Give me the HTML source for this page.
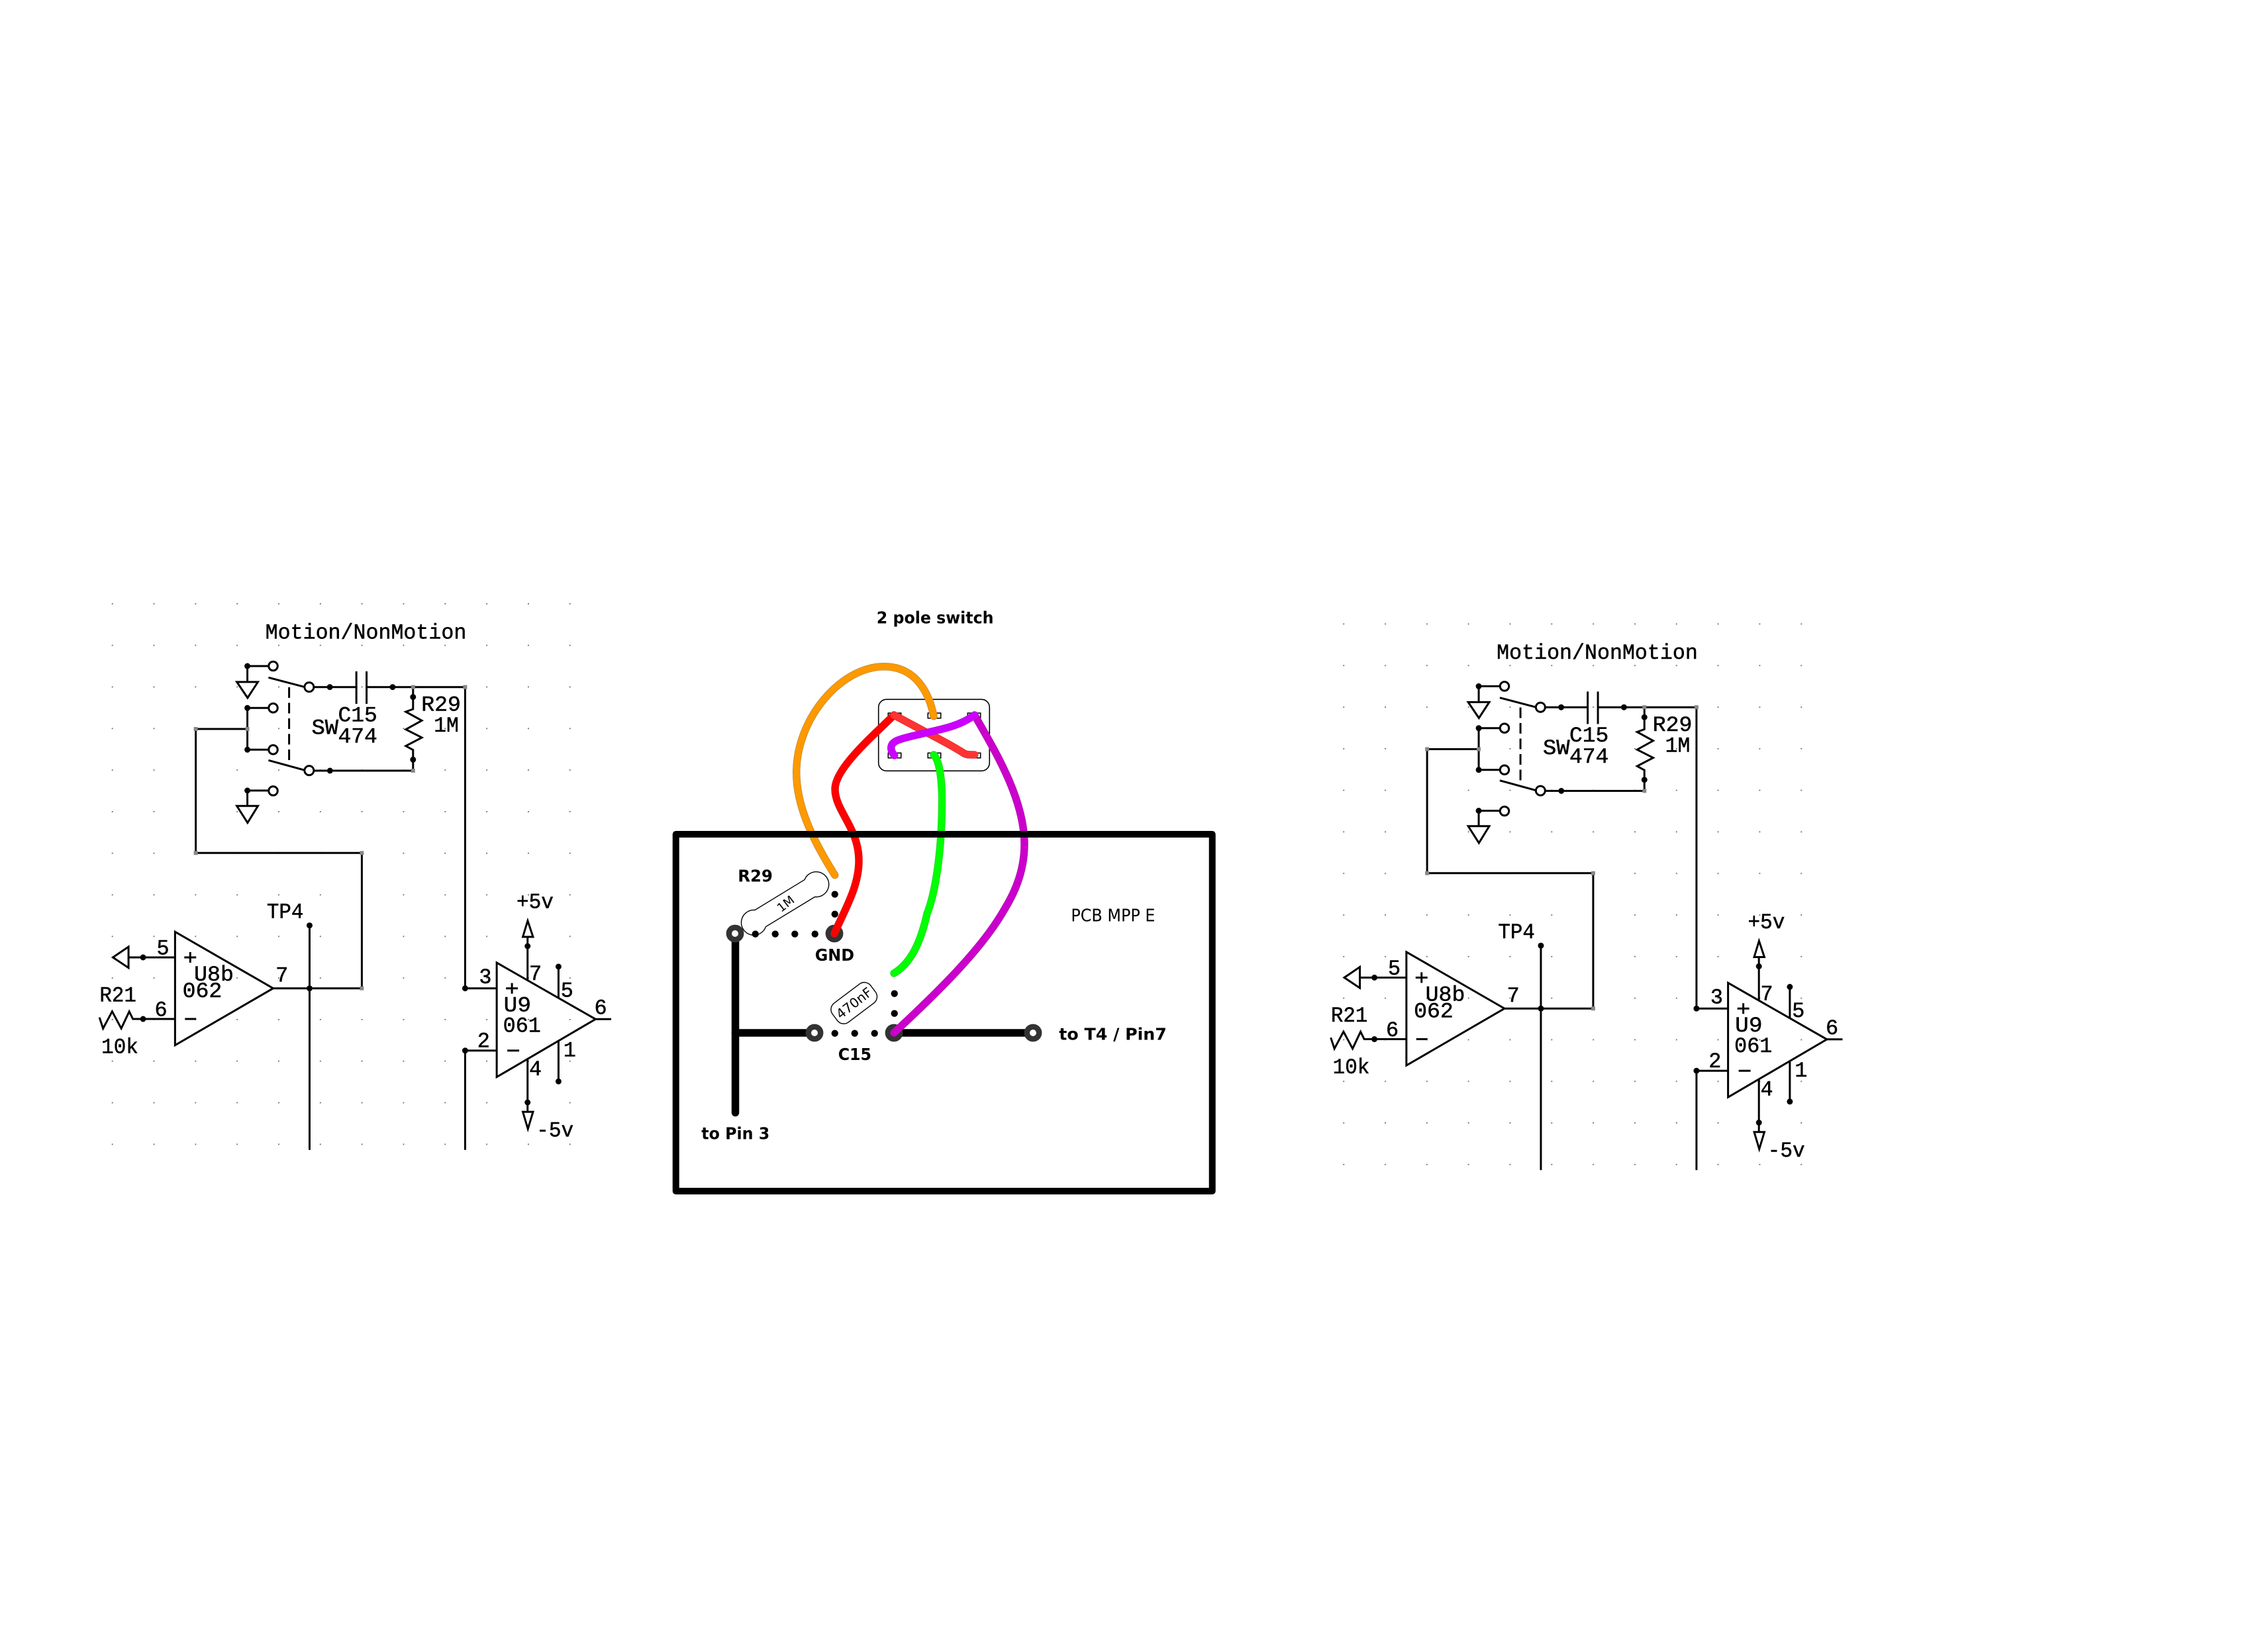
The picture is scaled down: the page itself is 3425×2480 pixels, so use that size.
<!DOCTYPE html>
<html><head><meta charset="utf-8">
<style>
html,body{margin:0;padding:0;background:#fff;width:3425px;height:2480px;overflow:hidden}
svg{display:block}
.s line,.s path,.s polyline,.s polygon{fill:none;stroke:#000;stroke-width:3}
.s circle.c{fill:#fff;stroke:#000;stroke-width:3}
.s circle.d{fill:#000;stroke:none}
.s rect.n{fill:#888;stroke:none}
.s text{font-family:"Liberation Mono",monospace;font-size:32px;fill:#000;stroke:#000;stroke-width:.5}
.b{font-family:"DejaVu Sans","Liberation Sans",sans-serif;font-weight:bold;font-size:25px;fill:#000}
.r{font-family:"DejaVu Sans","Liberation Sans",sans-serif;font-size:26px;fill:#000}
.w{fill:none;stroke-width:11.5;stroke-linecap:round}
.i{fill:none;stroke-width:10;stroke-linecap:round}
</style></head><body>
<svg xmlns="http://www.w3.org/2000/svg" width="3425" height="2480" viewBox="0 0 3425 2480">
<defs><pattern id="p" x="169" y="911" width="63.1" height="62.8" patternUnits="userSpaceOnUse"><rect x="0" y="0" width="1.8" height="1.8" fill="#666"/></pattern></defs>
<g class="s" transform="matrix(.9956 0 0 1 .528 0)">
<rect x="168" y="909" width="700" height="824" fill="url(#p)" style="stroke:none"/>
<polyline points="374.7,1006 406.7,1006"/><line x1="374.7" y1="1006" x2="374.7" y2="1030"/>
<polygon points="358.7,1030 390.7,1030 375,1054"/>
<circle class="d" cx="374.7" cy="1006" r="4.5"/><circle class="c" cx="413.8" cy="1006" r="6.8"/>
<line x1="406.7" y1="1023.3" x2="461.8" y2="1037.7"/><line x1="475" y1="1037.7" x2="540" y2="1037.7"/>
<circle class="c" cx="468.4" cy="1037.7" r="7"/><circle class="d" cx="499.8" cy="1037.7" r="4.5"/>
<line x1="540" y1="1014" x2="540" y2="1063"/><line x1="555.5" y1="1014" x2="555.5" y2="1063"/>
<line x1="555.5" y1="1037.7" x2="705" y2="1037.7"/><circle class="d" cx="595" cy="1037.7" r="4.5"/>
<path d="M626 1037.7V1071L615 1075L639.3 1088.3L615 1101.7L639.3 1114L615 1126.7L626 1132.7V1164H475"/>
<circle class="d" cx="626" cy="1052.7" r="4.5"/><circle class="d" cx="626" cy="1147.3" r="4.5"/>
<circle class="d" cx="500" cy="1164" r="4.5"/><circle class="c" cx="468.4" cy="1163.7" r="7"/>
<line x1="406.7" y1="1148.3" x2="461.8" y2="1163.3"/>
<line x1="438" y1="1038" x2="438" y2="1148" style="stroke-dasharray:16 7.5"/>
<path d="M406.7 1069.3H374.7V1132.3H406.7"/><circle class="d" cx="374.7" cy="1069.3" r="4.5"/><circle class="d" cx="374.7" cy="1132.3" r="4.5"/>
<circle class="c" cx="413.8" cy="1069.3" r="6.8"/><circle class="c" cx="413.8" cy="1132.3" r="6.8"/>
<path d="M374.7 1101H296.4V1288.3H548.3V1492.7H413.8"/>
<path d="M406.7 1194H374.7V1217.3"/><circle class="d" cx="374.7" cy="1194" r="4.5"/><circle class="c" cx="413.8" cy="1194.5" r="6.8"/>
<polygon points="358.7,1217.3 390.7,1217.3 375,1242.7"/>
<line x1="705" y1="1037.7" x2="705" y2="1492.7"/><line x1="705" y1="1492.7" x2="753" y2="1492.7"/>
<rect class="n" x="623" y="1034.7" width="6" height="6"/><rect class="n" x="702" y="1034.7" width="6" height="6"/><rect class="n" x="623" y="1161" width="6" height="6"/><rect class="n" x="371.7" y="1098" width="6" height="6"/><rect class="n" x="293.4" y="1098" width="6" height="6"/><rect class="n" x="293.4" y="1285.3" width="6" height="6"/><rect class="n" x="545.3" y="1285.3" width="6" height="6"/><rect class="n" x="545.3" y="1489.7" width="6" height="6"/>
<polygon points="265,1407.3 265,1578.7 413.8,1492.7"/>
<line x1="194.4" y1="1446" x2="265" y2="1446"/><polygon points="194.4,1430 194.4,1461.7 170.7,1446"/><circle class="d" cx="216.5" cy="1446" r="4.5"/>
<path d="M279 1446H297M288 1438V1454M280 1539H297"/>
<path d="M150.3 1536.7L155.8 1553.3L169.6 1527.7L183.4 1553.3L195.5 1527.7L201 1539H265"/><circle class="d" cx="216.5" cy="1539" r="4.5"/>
<line x1="469" y1="1397.7" x2="469" y2="1736.7"/><circle class="d" cx="469" cy="1397.7" r="4.5"/><circle class="d" cx="469" cy="1492.7" r="4.5"/>
<polygon points="752.9,1454 752.9,1626.7 902.8,1539.3"/>
<circle class="d" cx="705" cy="1492.7" r="4.5"/><path d="M753 1586.7H705V1736.7"/><circle class="d" cx="705" cy="1586.7" r="4.5"/>
<path d="M767 1492.7H785M776 1484.7V1500.7M769 1586.7H787"/>
<line x1="799.7" y1="1415" x2="799.7" y2="1480"/><polygon points="792.5,1415 808,1415 799.9,1390.7"/><circle class="d" cx="799.7" cy="1429" r="4.5"/>
<line x1="846.6" y1="1460" x2="846.6" y2="1506.7"/><circle class="d" cx="846.6" cy="1460" r="4.5"/>
<line x1="902.8" y1="1539.3" x2="926.5" y2="1539.3"/>
<line x1="846.6" y1="1573.3" x2="846.6" y2="1633.3"/><circle class="d" cx="846.6" cy="1633.3" r="4.5"/>
<line x1="799.7" y1="1599.3" x2="799.7" y2="1679.3"/><circle class="d" cx="799.7" cy="1665" r="4.5"/><polygon points="792.5,1679.3 808,1679.3 800.2,1705"/>
<text x="401.9" y="964.3" textLength="305" lengthAdjust="spacingAndGlyphs">Motion/NonMotion</text>
<text x="512.2" y="1089.3" textLength="59.6" lengthAdjust="spacingAndGlyphs">C15</text>
<text x="512.2" y="1121.7" textLength="59.6" lengthAdjust="spacingAndGlyphs">474</text>
<text x="472" y="1108.3" textLength="40.8" lengthAdjust="spacingAndGlyphs">SW</text>
<text x="638.5" y="1073.3" textLength="60" lengthAdjust="spacingAndGlyphs">R29</text>
<text x="657.5" y="1105" textLength="38" lengthAdjust="spacingAndGlyphs">1M</text>
<text x="404.2" y="1386.7" textLength="55.7" lengthAdjust="spacingAndGlyphs">TP4</text>
<text x="782.9" y="1371.7" textLength="56.2" lengthAdjust="spacingAndGlyphs">+5v</text>
<text x="237" y="1441.7">5</text>
<text x="293.9" y="1481" textLength="60" lengthAdjust="spacingAndGlyphs">U8b</text>
<text x="276.3" y="1506" textLength="60" lengthAdjust="spacingAndGlyphs">062</text>
<text x="150.5" y="1512.7" textLength="55.8" lengthAdjust="spacingAndGlyphs">R21</text>
<text x="234" y="1534.3">6</text>
<text x="153.3" y="1590.7" textLength="56" lengthAdjust="spacingAndGlyphs">10k</text>
<text x="417.4" y="1482.7">7</text>
<text x="726" y="1485">3</text>
<text x="723.4" y="1581.7">2</text>
<text x="763.5" y="1527.7" textLength="41.5" lengthAdjust="spacingAndGlyphs">U9</text>
<text x="762.5" y="1558.3" textLength="57.4" lengthAdjust="spacingAndGlyphs">061</text>
<text x="802" y="1480">7</text>
<text x="850" y="1505.7">5</text>
<text x="901" y="1531.7">6</text>
<text x="854" y="1595.7">1</text>
<text x="802" y="1624">4</text>
<text x="813.2" y="1716.7" textLength="56.3" lengthAdjust="spacingAndGlyphs">-5v</text>
</g>

<g class="s" transform="translate(1859.5 30.5) matrix(.9956 0 0 1 .528 0)">
<rect x="168" y="909" width="700" height="824" fill="url(#p)" style="stroke:none"/>
<polyline points="374.7,1006 406.7,1006"/><line x1="374.7" y1="1006" x2="374.7" y2="1030"/>
<polygon points="358.7,1030 390.7,1030 375,1054"/>
<circle class="d" cx="374.7" cy="1006" r="4.5"/><circle class="c" cx="413.8" cy="1006" r="6.8"/>
<line x1="406.7" y1="1023.3" x2="461.8" y2="1037.7"/><line x1="475" y1="1037.7" x2="540" y2="1037.7"/>
<circle class="c" cx="468.4" cy="1037.7" r="7"/><circle class="d" cx="499.8" cy="1037.7" r="4.5"/>
<line x1="540" y1="1014" x2="540" y2="1063"/><line x1="555.5" y1="1014" x2="555.5" y2="1063"/>
<line x1="555.5" y1="1037.7" x2="705" y2="1037.7"/><circle class="d" cx="595" cy="1037.7" r="4.5"/>
<path d="M626 1037.7V1071L615 1075L639.3 1088.3L615 1101.7L639.3 1114L615 1126.7L626 1132.7V1164H475"/>
<circle class="d" cx="626" cy="1052.7" r="4.5"/><circle class="d" cx="626" cy="1147.3" r="4.5"/>
<circle class="d" cx="500" cy="1164" r="4.5"/><circle class="c" cx="468.4" cy="1163.7" r="7"/>
<line x1="406.7" y1="1148.3" x2="461.8" y2="1163.3"/>
<line x1="438" y1="1038" x2="438" y2="1148" style="stroke-dasharray:16 7.5"/>
<path d="M406.7 1069.3H374.7V1132.3H406.7"/><circle class="d" cx="374.7" cy="1069.3" r="4.5"/><circle class="d" cx="374.7" cy="1132.3" r="4.5"/>
<circle class="c" cx="413.8" cy="1069.3" r="6.8"/><circle class="c" cx="413.8" cy="1132.3" r="6.8"/>
<path d="M374.7 1101H296.4V1288.3H548.3V1492.7H413.8"/>
<path d="M406.7 1194H374.7V1217.3"/><circle class="d" cx="374.7" cy="1194" r="4.5"/><circle class="c" cx="413.8" cy="1194.5" r="6.8"/>
<polygon points="358.7,1217.3 390.7,1217.3 375,1242.7"/>
<line x1="705" y1="1037.7" x2="705" y2="1492.7"/><line x1="705" y1="1492.7" x2="753" y2="1492.7"/>
<rect class="n" x="623" y="1034.7" width="6" height="6"/><rect class="n" x="702" y="1034.7" width="6" height="6"/><rect class="n" x="623" y="1161" width="6" height="6"/><rect class="n" x="371.7" y="1098" width="6" height="6"/><rect class="n" x="293.4" y="1098" width="6" height="6"/><rect class="n" x="293.4" y="1285.3" width="6" height="6"/><rect class="n" x="545.3" y="1285.3" width="6" height="6"/><rect class="n" x="545.3" y="1489.7" width="6" height="6"/>
<polygon points="265,1407.3 265,1578.7 413.8,1492.7"/>
<line x1="194.4" y1="1446" x2="265" y2="1446"/><polygon points="194.4,1430 194.4,1461.7 170.7,1446"/><circle class="d" cx="216.5" cy="1446" r="4.5"/>
<path d="M279 1446H297M288 1438V1454M280 1539H297"/>
<path d="M150.3 1536.7L155.8 1553.3L169.6 1527.7L183.4 1553.3L195.5 1527.7L201 1539H265"/><circle class="d" cx="216.5" cy="1539" r="4.5"/>
<line x1="469" y1="1397.7" x2="469" y2="1736.7"/><circle class="d" cx="469" cy="1397.7" r="4.5"/><circle class="d" cx="469" cy="1492.7" r="4.5"/>
<polygon points="752.9,1454 752.9,1626.7 902.8,1539.3"/>
<circle class="d" cx="705" cy="1492.7" r="4.5"/><path d="M753 1586.7H705V1736.7"/><circle class="d" cx="705" cy="1586.7" r="4.5"/>
<path d="M767 1492.7H785M776 1484.7V1500.7M769 1586.7H787"/>
<line x1="799.7" y1="1415" x2="799.7" y2="1480"/><polygon points="792.5,1415 808,1415 799.9,1390.7"/><circle class="d" cx="799.7" cy="1429" r="4.5"/>
<line x1="846.6" y1="1460" x2="846.6" y2="1506.7"/><circle class="d" cx="846.6" cy="1460" r="4.5"/>
<line x1="902.8" y1="1539.3" x2="926.5" y2="1539.3"/>
<line x1="846.6" y1="1573.3" x2="846.6" y2="1633.3"/><circle class="d" cx="846.6" cy="1633.3" r="4.5"/>
<line x1="799.7" y1="1599.3" x2="799.7" y2="1679.3"/><circle class="d" cx="799.7" cy="1665" r="4.5"/><polygon points="792.5,1679.3 808,1679.3 800.2,1705"/>
<text x="401.9" y="964.3" textLength="305" lengthAdjust="spacingAndGlyphs">Motion/NonMotion</text>
<text x="512.2" y="1089.3" textLength="59.6" lengthAdjust="spacingAndGlyphs">C15</text>
<text x="512.2" y="1121.7" textLength="59.6" lengthAdjust="spacingAndGlyphs">474</text>
<text x="472" y="1108.3" textLength="40.8" lengthAdjust="spacingAndGlyphs">SW</text>
<text x="638.5" y="1073.3" textLength="60" lengthAdjust="spacingAndGlyphs">R29</text>
<text x="657.5" y="1105" textLength="38" lengthAdjust="spacingAndGlyphs">1M</text>
<text x="404.2" y="1386.7" textLength="55.7" lengthAdjust="spacingAndGlyphs">TP4</text>
<text x="782.9" y="1371.7" textLength="56.2" lengthAdjust="spacingAndGlyphs">+5v</text>
<text x="237" y="1441.7">5</text>
<text x="293.9" y="1481" textLength="60" lengthAdjust="spacingAndGlyphs">U8b</text>
<text x="276.3" y="1506" textLength="60" lengthAdjust="spacingAndGlyphs">062</text>
<text x="150.5" y="1512.7" textLength="55.8" lengthAdjust="spacingAndGlyphs">R21</text>
<text x="234" y="1534.3">6</text>
<text x="153.3" y="1590.7" textLength="56" lengthAdjust="spacingAndGlyphs">10k</text>
<text x="417.4" y="1482.7">7</text>
<text x="726" y="1485">3</text>
<text x="723.4" y="1581.7">2</text>
<text x="763.5" y="1527.7" textLength="41.5" lengthAdjust="spacingAndGlyphs">U9</text>
<text x="762.5" y="1558.3" textLength="57.4" lengthAdjust="spacingAndGlyphs">061</text>
<text x="802" y="1480">7</text>
<text x="850" y="1505.7">5</text>
<text x="901" y="1531.7">6</text>
<text x="854" y="1595.7">1</text>
<text x="802" y="1624">4</text>
<text x="813.2" y="1716.7" textLength="56.3" lengthAdjust="spacingAndGlyphs">-5v</text>
</g>

<!-- centre -->
<text class="b" x="1323.8" y="941.7" textLength="176.7" lengthAdjust="spacingAndGlyphs">2 pole switch</text>
<rect x="1326.7" y="1056.3" width="167.6" height="108" rx="12" fill="#fff" stroke="#000" stroke-width="1.6"/>
<g fill="#fff" stroke="#000" stroke-width="1.6">
<rect x="1341.3" y="1077" width="19.4" height="7.7"/><rect x="1401.3" y="1077" width="19.4" height="7.7"/><rect x="1461.3" y="1077" width="19.4" height="7.7"/>
<rect x="1341.3" y="1137.3" width="19.4" height="7.4"/><rect x="1401.3" y="1137.3" width="19.4" height="7.4"/><rect x="1461.3" y="1137.3" width="19.4" height="7.4"/>
</g>
<path d="M1140 1374.5L1215 1328.7A19 19 0 1 1 1230.5 1354.6L1156.4 1399.7A19 19 0 1 1 1140 1374.5Z" fill="#fff" stroke="#000" stroke-width="1.4"/>
<text class="r" transform="translate(1186.6 1365.3) rotate(-38)" text-anchor="middle" y="6" style="font-size:18px">1M</text>
<rect x="-36" y="-18" width="72" height="36" rx="12" transform="translate(1289.7 1515) rotate(-37)" fill="#fff" stroke="#000" stroke-width="1.4"/>
<text class="r" transform="translate(1289.7 1515) rotate(-38)" text-anchor="middle" y="7" style="font-size:20px">470nF</text>
<g stroke="#000" stroke-width="11.5" stroke-linecap="round">
<line x1="1110.5" y1="1410" x2="1110.5" y2="1680.5"/><line x1="1110.5" y1="1560" x2="1230" y2="1560"/><line x1="1350" y1="1560" x2="1560" y2="1560"/>
</g>
<g fill="#000">
<circle cx="1140.7" cy="1410.7" r="5.2"/><circle cx="1170.7" cy="1410.7" r="5.2"/><circle cx="1200.3" cy="1410.7" r="5.2"/><circle cx="1230.7" cy="1410.7" r="5.2"/>
<circle cx="1260.7" cy="1350.7" r="5.2"/><circle cx="1260.7" cy="1380.7" r="5.2"/>
<circle cx="1260.7" cy="1560.7" r="5.2"/><circle cx="1290.7" cy="1560.7" r="5.2"/><circle cx="1320.7" cy="1560.7" r="5.2"/>
<circle cx="1350.7" cy="1500.7" r="5.2"/><circle cx="1350.7" cy="1530.7" r="5.2"/>
</g>
<g fill="#fff" stroke="#333" stroke-width="8.4">
<circle cx="1110" cy="1410" r="9.2"/><circle cx="1260" cy="1410" r="9.2"/><circle cx="1230" cy="1560" r="9.2"/><circle cx="1350" cy="1560" r="9.2"/><circle cx="1560" cy="1560" r="9.2"/>
</g>
<path class="w" stroke="#b98a3c" d="M1410 1081.7C1404 1050 1385 1006.7 1335 1006.7C1270 1006.7 1202.7 1085 1202.7 1166.7C1202.7 1215 1225 1265 1260.7 1321.7"/>
<path class="i" stroke="#ff9900" d="M1410 1081.7C1404 1050 1385 1006.7 1335 1006.7C1270 1006.7 1202.7 1085 1202.7 1166.7C1202.7 1215 1225 1265 1260.7 1321.7"/>
<path class="w" stroke="#d51a1a" d="M1350 1080C1320 1110 1261 1160 1261 1191.7C1261 1225 1297 1250 1297 1300C1297 1340 1275 1375 1260 1410"/>
<path class="i" stroke="#ff0000" d="M1350 1080C1320 1110 1261 1160 1261 1191.7C1261 1225 1297 1250 1297 1300C1297 1340 1275 1375 1260 1410"/>
<path class="w" stroke="#33cc33" d="M1410 1140C1420 1150 1423 1185 1422.5 1215C1422 1290 1412 1350 1400 1380C1390 1425 1375 1455 1350 1470"/>
<path class="i" stroke="#00ff00" d="M1410 1140C1420 1150 1423 1185 1422.5 1215C1422 1290 1412 1350 1400 1380C1390 1425 1375 1455 1350 1470"/>
<path class="w" stroke="#a31ba3" d="M1471.7 1080C1500 1130 1547 1205 1547 1275C1547 1325 1525 1360 1513 1380C1480 1435 1420 1495 1350 1560"/>
<path class="i" stroke="#cc00cc" d="M1471.7 1080C1500 1130 1547 1205 1547 1275C1547 1325 1525 1360 1513 1380C1480 1435 1420 1495 1350 1560"/>
<path class="w" stroke="#d92e2e" d="M1350 1080L1400 1106.7C1420 1117 1440 1128 1453 1136C1458 1140 1462 1140 1471.7 1140"/>
<path class="i" stroke="#ff3333" d="M1350 1080L1400 1106.7C1420 1117 1440 1128 1453 1136C1458 1140 1462 1140 1471.7 1140"/>
<path class="w" stroke="#a81bd6" d="M1471.7 1080C1450 1096 1425 1101 1393 1108C1360 1116 1345.7 1118 1345.7 1130C1345.7 1134 1348 1138 1350.7 1141"/>
<path class="i" stroke="#cc00ff" d="M1471.7 1080C1450 1096 1425 1101 1393 1108C1360 1116 1345.7 1118 1345.7 1130C1345.7 1134 1348 1138 1350.7 1141"/>
<rect x="1020.7" y="1260" width="810" height="539" fill="none" stroke="#000" stroke-width="10" stroke-linejoin="round"/>
<text class="b" x="1114.2" y="1331.6" textLength="52.7" lengthAdjust="spacingAndGlyphs">R29</text>
<text class="b" x="1230.7" y="1451" textLength="59.3" lengthAdjust="spacingAndGlyphs">GND</text>
<text class="b" x="1265.7" y="1601" textLength="50.3" lengthAdjust="spacingAndGlyphs">C15</text>
<text class="b" x="1599.3" y="1570.5" textLength="162.5" lengthAdjust="spacingAndGlyphs">to T4 / Pin7</text>
<text class="b" x="1059.3" y="1720.7" textLength="103" lengthAdjust="spacingAndGlyphs">to Pin 3</text>
<text class="r" x="1617.4" y="1391.7" textLength="127" lengthAdjust="spacingAndGlyphs">PCB MPP E</text>
</svg>
</body></html>
